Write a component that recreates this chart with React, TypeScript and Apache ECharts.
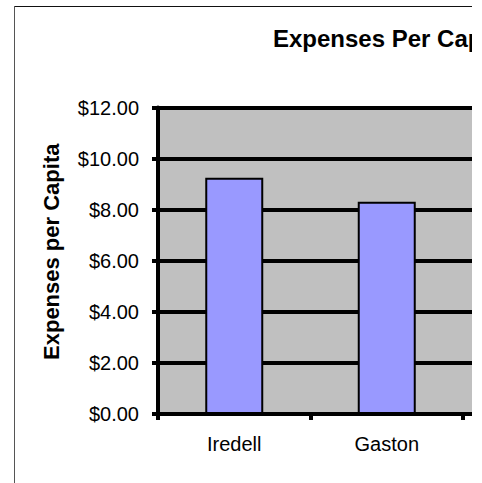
import React, { useEffect, useRef } from "react";
import * as echarts from "echarts";

const titleText = "Expenses Per Capita";
const yAxisName = "Expenses per Capita";
const categories = ["Iredell", "Gaston", ""];
const expenses: (number | string)[] = [9.25, 8.31, "-"];
const yMin = 0;
const yMax = 12;
const yInterval = 2;

const FONT = "'Liberation Sans', Arial, sans-serif";

export default function App() {
  const ref = useRef<HTMLDivElement>(null);
  useEffect(() => {
    if (!ref.current) return;
    const chart = echarts.init(ref.current, undefined, { renderer: "svg" });
    chart.setOption({
      animation: false,
      backgroundColor: "#ffffff",
      title: {
        text: titleText,
        left: 268,
        top: 21,
        textStyle: { fontFamily: FONT, fontSize: 24, fontWeight: "bold", color: "#000" },
      },
      graphic: [
        { type: "line", shape: { x1: 14, y1: 6.5, x2: 760, y2: 6.5 }, style: { stroke: "#111", lineWidth: 1 } },
        { type: "line", shape: { x1: 14.5, y1: 6, x2: 14.5, y2: 483 }, style: { stroke: "#555", lineWidth: 1 } },
      ],
      grid: {
        left: 158,
        top: 107.5,
        bottom: 69,
        width: 457.5,
        show: true,
        backgroundColor: "#c0c0c0",
        borderWidth: 0,
      },
      xAxis: {
        type: "category",
        data: categories,
        boundaryGap: true,
        axisLine: { show: true, lineStyle: { color: "#000", width: 4 } },
        axisTick: { show: true, inside: false, length: 6, lineStyle: { color: "#000", width: 4 } },
        axisLabel: { color: "#000", fontFamily: FONT, fontSize: 20, margin: 20 },
        splitLine: { show: false },
      },
      yAxis: {
        type: "value",
        min: yMin,
        max: yMax,
        interval: yInterval,
        name: yAxisName,
        nameLocation: "middle",
        nameRotate: 90,
        nameGap: 96,
        nameTextStyle: { fontFamily: FONT, fontSize: 22, fontWeight: "bold", color: "#000", padding: [0, 0, 0, 18] },
        axisLine: { show: true, lineStyle: { color: "#000", width: 4 } },
        axisTick: { show: true, inside: false, length: 6, lineStyle: { color: "#000", width: 4 } },
        axisLabel: {
          color: "#000",
          fontFamily: FONT,
          fontSize: 20,
          margin: 19,
          formatter: (v: number) => "$" + v.toFixed(2),
        },
        splitLine: { show: true, lineStyle: { color: "#000", width: 4 } },
      },
      series: [
        {
          type: "bar",
          data: expenses,
          barWidth: 58,
          itemStyle: { color: "#9999ff", borderColor: "#000", borderWidth: 2 },
        },
      ],
    });
    return () => chart.dispose();
  }, []);
  return (
    <div style={{ position: "absolute", left: 0, top: 0, width: 472, height: 483, overflow: "hidden", background: "#fff" }}>
      <div ref={ref} style={{ position: "absolute", left: 0, top: 0, width: 760, height: 483 }} />
    </div>
  );
}
